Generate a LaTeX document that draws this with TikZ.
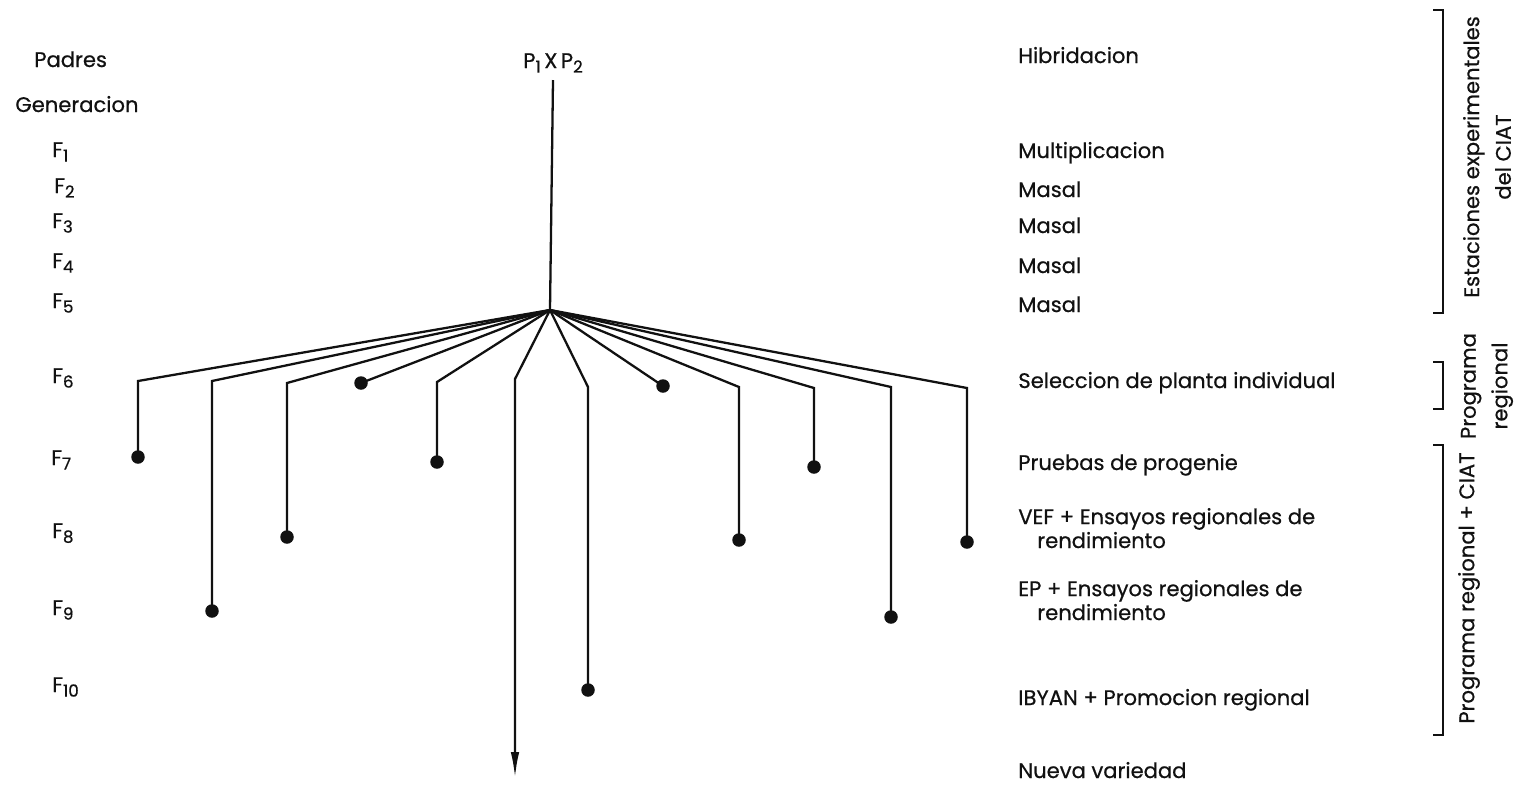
\documentclass[tikz,border=0pt]{standalone}
\usepackage{fontspec}
\setmainfont{Poppins}[FakeBold=0.6]
\usetikzlibrary{arrows.meta}
\definecolor{inkblack}{HTML}{111111}
\newcommand{\lowsub}[1]{\raisebox{-0.4ex}{\fontsize{9.5}{10}\selectfont #1}}
\newcommand{\gen}[1]{F\lowsub{#1}}
\newcommand{\leafbranch}[4]{%
  % #1=name, #2=bend x, #3=bend y, #4=dot y
  \coordinate (#1bend) at (#2,#3);
  \node[leaf] (#1) at (#2,#4) {};
  \draw[branch] (hub) -- (#1bend) -- (#1.center);
}
\newcommand{\stagebracket}[3]{%
  % #1=name, #2=top y, #3=bottom y
  \coordinate (#1top) at (1443,#2);
  \coordinate (#1bot) at (1443,#3);
  \draw[bracket] ([xshift=-2mm]#1top) -- (#1top) -- (#1bot) -- ([xshift=-2mm]#1bot);
}

\begin{document}
\begin{tikzpicture}[x=0.2mm, y=-0.2mm, inkblack,
  branch/.style={line width=1.3pt},
  bracket/.style={line width=1.2pt},
  leaf/.style={circle, fill=inkblack, inner sep=0pt, minimum size=2.7mm},
  lbl/.style={font=\fontsize{12}{13.6}\selectfont, anchor=base west, inner sep=0pt, align=left},
  side/.style={font=\fontsize{12}{18}\selectfont, align=center, inner sep=0pt, rotate=90}]
\useasboundingbox (0,0) rectangle (1517,784);

% Cross and main stem
\node[font=\fontsize{12}{14}\selectfont, anchor=base, inner sep=4pt] (cross) at (553,68)
  {P\lowsub{1}\,X\,P\lowsub{2}};
\coordinate (hub) at (550,310);
\draw[branch] (cross.south) -- (hub);

% Left: generations
\node[lbl] (padres) at (34,67) {Padres};
\node[lbl] (generacion) at (15,112) {Generacion};
\node[lbl] (f1) at (52,157) {\gen{1}};
\node[lbl] (f2) at (54,193) {\gen{2}};
\node[lbl] (f3) at (52,228) {\gen{3}};
\node[lbl] (f4) at (52,268) {\gen{4}};
\node[lbl] (f5) at (52,308) {\gen{5}};
\node[lbl] (f6) at (52,383) {\gen{6}};
\node[lbl] (f7) at (51,465) {\gen{7}};
\node[lbl] (f8) at (52,538) {\gen{8}};
\node[lbl] (f9) at (52,615) {\gen{9}};
\node[lbl] (f10) at (52,692) {\gen{10}};

% Branches of the fan
\leafbranch{b1}{138}{381}{457}
\leafbranch{b2}{212}{381}{611}
\leafbranch{b3}{287}{383}{537}
\node[leaf] (b4) at (361,383) {};
\draw[branch] (hub) -- (b4.center);
\leafbranch{b5}{437}{382}{462}
\leafbranch{b7}{588}{387}{690}
\node[leaf] (b8) at (663,386) {};
\draw[branch] (hub) -- (b8.center);
\leafbranch{b9}{739}{387}{540}
\leafbranch{b10}{814}{388}{467}
\leafbranch{b11}{891}{387}{617}
\leafbranch{b12}{967}{388}{542}

% Line leading to the new variety
\coordinate (b6bend) at (515,379);
\coordinate (newvar) at (515,778);
\draw[branch, -{Latex[length=5.2mm, width=1.7mm]}] (hub) -- (b6bend) -- (newvar);

% Right: activities
\node[lbl] (hibrid) at (1018,63) {Hibridacion};
\node[lbl] (multi) at (1018,158) {Multiplicacion};
\node[lbl] (masal2) at (1018,197) {Masal};
\node[lbl] (masal3) at (1018,233) {Masal};
\node[lbl] (masal4) at (1018,273) {Masal};
\node[lbl] (masal5) at (1018,312) {Masal};
\node[lbl] (selec) at (1018,388) {Seleccion de planta individual};
\node[lbl] (pruebas) at (1018,470) {Pruebas de progenie};
\node[lbl] (vef) at (1018,548) {VEF + Ensayos regionales de\\\hspace*{0.9em}rendimiento};
\node[lbl] (ep) at (1018,620) {EP + Ensayos regionales de\\\hspace*{0.9em}rendimiento};
\node[lbl] (ibyan) at (1018,705) {IBYAN + Promocion regional};
\node[lbl] (nueva) at (1018,778) {Nueva variedad};

% Brackets for who does the work
\stagebracket{ciat}{10}{313}
\stagebracket{reg}{362}{409}
\stagebracket{both}{445}{735}
\node[side] (ciatlbl) at (1487,157) {Estaciones experimentales\\del CIAT};
\node[side] (reglbl) at (1487,386) {Programa\\regional};
\node[side] (bothlbl) at (1469,588) {Programa regional + CIAT};

\end{tikzpicture}
\end{document}
